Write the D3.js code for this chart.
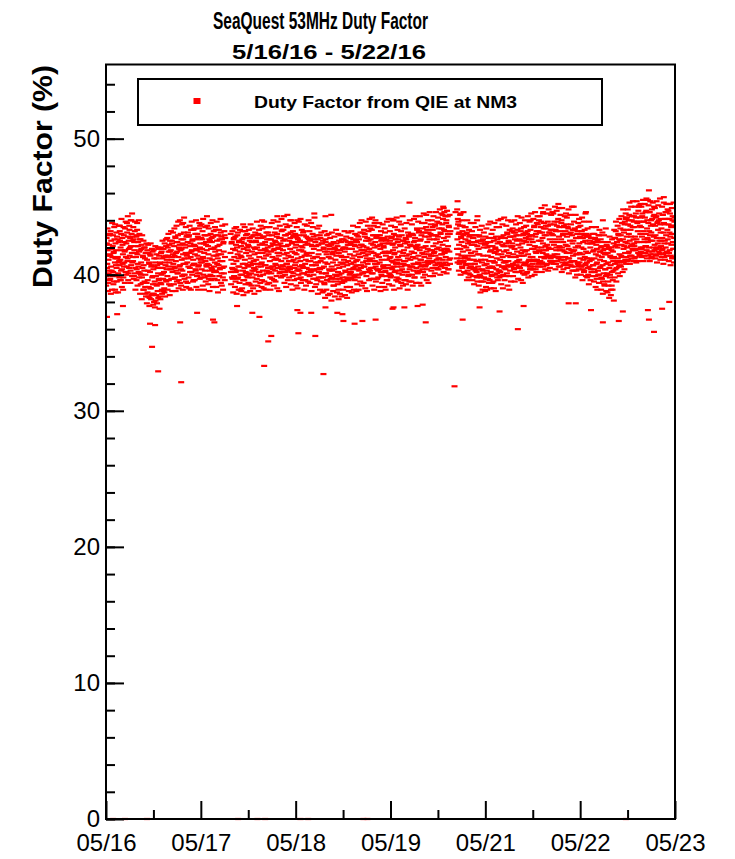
<!DOCTYPE html>
<html>
<head>
<meta charset="utf-8">
<script src="https://cdn.jsdelivr.net/npm/d3@7"></script>
<style>
	body { margin: 0; background: #fff; }
	text { font-family: 'Liberation Sans', Arial, sans-serif; }
</style>
</head>
<body>
<svg id="canvas"></svg>
<script>
const width = 735;
const height = 859;

// two interleaved reading streams, 8 readings per hour each,
// hours counted from the left edge of the axis; null = no beam data
const samplesPerHour = 8;

const day1 = [
	41.4, 39.9, 42.3, 40.8, 41.8, 39.4, 41.1, 42.9, 40.3, 41.5, 39.7, 43.2, 40.6, 41.9, 38.9, 41.3,
	42.1, 40.2, 41.6, 39.5, 42.6, 40.9, 41.2, 38.7, 41.8, 40.5, 42.8, 39.9, 41.3, 40.1, 42.4, 41.0,
	40.7, 42.5, 41.1, 39.6, 43.0, 41.8, 40.4, 42.2, 41.5, 39.8, 42.9, 40.9, 41.7, 43.4, 40.2, 41.3,
	42.3, 40.6, 43.1, 41.2, 42.8, 40.1, 41.9, 43.6, 41.4, 42.7, 40.3, 42.1, 44.0, 41.6, 40.9, 42.5,
	41.0, 42.6, 39.9, 41.8, 43.2, 40.5, 42.1, 41.3, 39.6, 42.9, 41.5, 40.8, 42.4, 40.2, 41.7, 43.0,
	40.1, 41.8, 39.3, 40.9, 42.2, 39.8, 40.5, 41.4, 38.9, 40.7, 42.0, 39.5, 41.2, 40.0, 38.6, 41.6,
	39.4, 41.1, 38.7, 40.3, 41.6, 39.1, 40.8, 38.3, 40.2, 41.4, 39.0, 40.6, 38.5, 39.8, 41.7, 39.3,
	40.4, 38.6, 41.2, 39.5, 40.9, 38.1, 39.9, 41.5, 39.2, 40.7, 38.8, 40.1, 41.9, 39.6, 38.4, 40.5,
	40.8, 39.4, 41.6, 40.0, 38.9, 41.2, 40.5, 39.7, 41.9, 40.2, 38.7, 40.9, 41.4, 39.6, 42.1, 40.4,
	41.3, 39.9, 42.0, 40.6, 41.7, 39.3, 40.9, 42.5, 40.4, 41.8, 39.7, 41.1, 42.3, 40.2, 41.5, 40.8,
	40.6, 42.1, 41.4, 39.8, 42.7, 41.0, 40.3, 42.4, 41.7, 40.1, 42.9, 41.3, 39.6, 41.9, 42.2, 40.7,
	41.8, 40.4, 42.6, 41.1, 39.9, 42.3, 41.5, 40.8, 43.1, 41.2, 40.0, 42.0, 41.6, 39.5, 42.8, 41.4
];
const day1b = [
	39.2, 42.7, 40.5, 43.4, 38.8, 41.9, 40.1, 42.2, 39.6, 43.0, 41.4, 38.6, 42.5, 40.3, 43.8, 39.9,
	42.9, 39.3, 41.7, 43.5, 40.0, 38.9, 42.3, 40.7, 43.1, 39.5, 41.2, 42.6, 38.7, 40.9, 43.6, 39.8,
	43.2, 39.6, 42.0, 40.3, 44.1, 39.1, 42.7, 40.8, 38.9, 43.5, 40.6, 42.4, 39.4, 41.8, 43.9, 40.0,
	40.2, 43.8, 41.0, 44.3, 39.6, 42.5, 40.5, 43.3, 42.0, 39.4, 44.0, 40.7, 43.0, 39.9, 42.8, 41.3,
	43.5, 39.7, 42.4, 40.1, 43.9, 38.9, 41.6, 42.8, 40.4, 43.3, 39.2, 42.1, 40.6, 44.0, 39.8, 42.6,
	38.6, 42.6, 40.0, 41.9, 38.2, 42.9, 39.4, 41.3, 42.5, 38.9, 40.3, 42.0, 39.1, 41.6, 38.4, 42.3,
	37.9, 41.8, 39.6, 42.2, 38.4, 40.9, 37.7, 41.5, 39.0, 42.3, 38.2, 40.7, 41.9, 38.6, 39.9, 37.8,
	41.8, 38.0, 40.6, 37.6, 42.1, 39.3, 38.5, 41.2, 37.9, 40.5, 42.0, 38.3, 39.7, 41.4, 37.5, 40.9,
	38.2, 42.0, 39.3, 41.7, 38.6, 42.5, 40.1, 38.8, 41.3, 39.0, 42.3, 38.4, 40.7, 42.6, 39.5, 41.1,
	42.7, 38.9, 41.4, 43.0, 39.6, 42.2, 38.5, 41.7, 39.2, 43.2, 40.4, 42.5, 38.8, 41.3, 43.1, 39.7,
	39.3, 43.4, 40.5, 42.8, 38.8, 41.6, 43.6, 39.5, 42.4, 40.1, 43.9, 39.0, 42.0, 40.6, 44.0, 39.4,
	43.0, 39.2, 41.9, 43.7, 40.3, 38.9, 42.6, 40.0, 44.2, 39.7, 42.2, 40.8, 43.5, 39.1, 41.5, 42.9
];

const day2 = [
	40.9, 42.4, 41.2, 39.8, 42.9, 41.6, 40.5, 42.1, 41.3, 43.3, 40.2, 41.8, 42.5, 40.7, 41.1, 39.6,
	42.2, 40.8, 41.5, 43.0, 40.3, 41.9, 42.6, 39.9, 41.4, 42.8, 40.6, 41.2, 43.4, 40.1, 42.0, 41.7,
	41.1, 42.7, 40.4, 41.9, 43.2, 41.3, 40.0, 42.3, 41.6, 39.8, 42.9, 41.0, 42.4, 40.7, 41.8, 43.6,
	40.8, 42.1, 41.5, 39.7, 42.6, 41.2, 40.3, 43.0, 41.9, 40.5, 42.4, 41.1, 39.9, 42.8, 41.4, 40.6,
	42.0, 40.9, 41.7, 43.3, 40.2, 41.4, 42.5, 39.6, 41.2, 42.9, 40.7, 41.8, 42.2, 40.4, 41.0, 43.1,
	41.5, 40.1, 42.6, 41.0, 39.8, 42.3, 41.7, 40.6, 42.9, 41.3, null, null, null, null, null, null,
	null, null, null, null, null, null, 41.6, 40.2, 41.1, 42.4, 40.5, 39.7, 41.9, 40.8, 42.7, 41.3,
	40.4, 41.8, 39.5, 42.2, 41.0, 40.3, 42.9, 41.5, 39.8, 41.2, 42.4, 40.6, 41.7, 38.9, 41.4, 42.1,
	41.3, 40.0, 42.6, 40.8, 39.6, 41.9, 42.3, 40.5, 41.1, 43.2, 40.2, 41.6, 39.9, 42.0, 40.7, 41.8,
	40.6, 42.1, 41.4, 39.3, 42.7, 40.9, 41.2, 40.1, 42.4, 41.7, 39.8, 40.8, 42.9, 41.0, 40.3, 41.5,
	41.9, 40.4, 42.5, 41.1, 39.7, 42.0, 40.8, 41.6, 43.0, 40.2, 41.3, 42.2, 39.9, 41.8, 40.6, 42.7,
	40.9, 42.3, 41.6, 40.0, 42.8, 41.2, 39.5, 41.9, 42.4, 40.7, 41.4, 43.1, 40.3, 41.7, 42.0, 40.5
];
const day2b = [
	39.4, 43.1, 40.6, 42.8, 39.0, 43.6, 40.2, 42.3, 38.9, 41.7, 43.9, 40.0, 42.6, 39.5, 43.3, 40.8,
	43.4, 39.6, 42.1, 40.4, 44.0, 39.1, 41.8, 43.0, 40.1, 38.9, 42.7, 40.7, 43.8, 39.7, 42.3, 40.9,
	39.8, 43.7, 40.9, 42.6, 39.2, 44.1, 41.2, 38.9, 42.9, 40.3, 43.5, 39.5, 42.2, 40.6, 44.3, 39.9,
	42.9, 39.3, 43.4, 40.7, 38.8, 42.5, 40.0, 43.8, 39.6, 42.7, 40.4, 44.0, 39.1, 41.9, 43.2, 40.2,
	39.7, 43.5, 40.3, 42.9, 39.1, 43.9, 40.8, 42.1, 38.7, 41.5, 43.3, 39.9, 42.6, 40.5, 44.1, 39.4,
	42.8, 39.2, 43.6, 40.5, 38.9, 42.4, 40.1, 43.2, 39.6, 42.7, null, null, null, null, null, null,
	null, null, null, null, null, null, 43.0, 39.3, 42.3, 39.8, 43.2, 40.4, 38.7, 42.6, 39.9, 43.4,
	39.1, 42.8, 40.2, 43.5, 38.6, 42.0, 39.7, 43.1, 40.6, 38.9, 42.5, 39.4, 43.3, 40.0, 42.1, 38.8,
	42.4, 39.0, 43.2, 40.3, 38.5, 42.7, 39.6, 43.5, 40.8, 39.3, 42.9, 40.1, 38.7, 43.0, 39.8, 42.2,
	39.4, 43.3, 40.0, 42.5, 38.8, 43.7, 40.7, 39.2, 42.8, 40.3, 43.4, 39.0, 42.0, 40.5, 38.6, 42.9,
	43.1, 39.5, 42.4, 40.0, 43.9, 39.2, 42.7, 40.6, 38.8, 43.3, 40.2, 42.9, 39.4, 43.6, 40.8, 39.1,
	39.6, 43.4, 40.3, 42.8, 39.0, 43.9, 40.7, 42.2, 38.9, 41.8, 43.5, 40.1, 42.6, 39.3, 43.1, 40.5
];

const day3 = [
	41.5, 40.2, 42.6, 41.0, 39.8, 42.1, 41.7, 40.6, 42.9, 41.3, 40.4, 42.2, 41.8, 39.6, 41.1, 42.5,
	40.8, 42.4, 41.2, 39.9, 43.0, 41.6, 40.5, 42.0, 41.4, 42.7, 40.1, 41.9, 42.3, 40.6, 41.0, 43.2,
	42.1, 40.7, 41.8, 43.3, 40.4, 41.5, 42.6, 40.0, 41.2, 42.9, 40.8, 41.6, 43.5, 40.3, 42.2, 41.4,
	41.0, 42.5, 40.6, 41.9, 43.1, 41.3, 40.2, 42.3, 41.7, 39.9, 42.8, 41.1, 42.4, 40.5, 41.6, 43.0,
	40.9, 42.2, 41.5, 39.7, 42.7, 41.2, 40.4, 42.9, 41.8, 40.3, 42.5, 41.0, 39.8, 42.1, 41.3, 40.7,
	42.0, 40.6, 41.7, 43.2, 40.1, 41.4, 42.4, 39.6, 41.1, 42.8, 40.5, 41.6, 42.3, 40.2, 41.0, 42.6,
	41.4, 39.9, 42.5, 41.0, 40.3, 42.2, 41.6, 40.7, 43.0, 41.2, 40.0, 41.9, 42.6, 40.4, 41.3, 39.7,
	40.7, 42.1, 41.3, 39.6, 42.6, 40.9, 41.5, 40.2, 41.8, 42.9, 40.4, 41.0, 39.8, 42.3, 41.2, 40.5,
	41.2, 39.8, 42.0, 40.6, 39.3, 41.7, 40.9, 42.4, 40.1, 41.5, 39.6, 40.8, 42.2, 39.9, 41.3, 40.4,
	40.3, 41.9, 39.5, 41.2, 42.3, 40.6, 39.8, 41.5, 40.9, 39.2, 41.7, 40.4, 42.0, 40.0, 41.1, 39.7,
	41.4, 39.9, 40.7, 42.1, 40.2, 38.9, 41.6, 40.5, 39.7, 41.8, 40.9, 42.4, 40.1, 41.3, 39.4, 40.8,
	40.6, 42.0, 41.1, 39.5, 41.7, 40.3, 42.5, 40.9, 41.3, 39.8, 40.7, 42.2, 41.0, 39.6, 41.9, 40.4
];
const day3b = [
	42.9, 39.4, 43.5, 40.5, 38.9, 42.6, 40.1, 43.8, 39.7, 42.3, 40.6, 44.0, 39.2, 41.9, 43.1, 40.3,
	39.5, 43.4, 40.7, 42.8, 39.0, 43.9, 41.1, 42.2, 38.8, 41.6, 43.6, 40.2, 42.7, 39.8, 44.1, 40.4,
	43.3, 39.9, 42.5, 40.6, 44.3, 39.4, 42.9, 40.2, 43.7, 39.1, 42.1, 40.8, 44.4, 39.6, 43.0, 40.5,
	39.8, 43.6, 40.4, 42.7, 39.3, 44.0, 41.0, 42.4, 38.9, 43.2, 40.1, 42.9, 39.6, 43.8, 40.7, 42.0,
	42.8, 39.2, 43.5, 40.3, 39.0, 42.6, 40.0, 43.9, 39.7, 42.4, 40.6, 44.1, 39.4, 41.8, 43.3, 40.1,
	39.6, 43.1, 40.5, 42.9, 38.9, 43.7, 40.8, 42.2, 39.2, 41.5, 43.6, 40.0, 42.7, 39.5, 44.0, 40.4,
	43.2, 39.4, 42.6, 40.2, 43.8, 38.8, 42.1, 40.7, 43.5, 39.7, 42.8, 40.3, 44.2, 39.1, 42.4, 40.9,
	39.3, 42.9, 40.4, 43.4, 38.6, 42.2, 39.8, 43.6, 40.5, 38.9, 42.7, 39.5, 43.1, 40.1, 42.3, 38.7,
	42.5, 38.8, 41.9, 39.4, 43.2, 38.3, 42.6, 40.1, 38.9, 42.9, 39.6, 41.7, 38.5, 43.0, 39.9, 42.1,
	38.6, 42.7, 39.7, 42.2, 38.1, 43.1, 40.3, 41.6, 38.8, 42.4, 39.2, 42.8, 38.4, 41.9, 39.5, 43.3,
	42.3, 38.7, 41.8, 39.3, 43.0, 38.2, 42.5, 40.0, 38.6, 42.9, 39.5, 41.4, 38.4, 42.6, 39.8, 41.9,
	38.9, 42.6, 39.6, 43.2, 38.5, 42.0, 40.2, 42.8, 39.1, 38.3, 42.4, 39.7, 43.1, 38.8, 42.2, 40.0
];

const day4 = [
	41.5, 40.1, 42.3, 40.8, 39.7, 41.9, 41.2, 40.4, 42.6, 40.9, 41.4, 39.9, 42.1, 40.6, 41.7, 41.0,
	40.7, 42.4, 41.1, 39.8, 42.8, 41.5, 40.3, 42.0, 41.3, 43.1, 40.5, 41.8, 42.2, 40.1, 41.6, 40.9,
	42.1, 40.6, 41.8, 43.0, 40.2, 41.4, 42.5, 39.9, 41.2, 42.7, 40.8, 41.5, 43.2, 40.4, 41.9, 41.1,
	41.0, 42.6, 40.5, 41.7, 43.3, 41.2, 40.1, 42.2, 41.6, 39.7, 42.9, 41.0, 42.4, 40.6, 41.4, 42.8,
	40.8, 42.1, 41.5, 39.8, 42.7, 41.3, 40.4, 42.9, 41.9, 40.2, 42.5, 41.1, 39.9, 42.3, 41.6, 40.7,
	42.0, 40.5, 41.7, 43.1, 40.3, 41.4, 42.6, 39.6, 41.1, 42.8, 40.7, 41.6, 42.3, 40.1, 41.2, 42.5,
	41.3, 39.9, 42.7, 41.0, 40.4, 42.2, 41.8, 40.6, 43.0, 41.5, 40.2, 42.0, 42.6, 40.8, 41.1, 39.8,
	40.9, 42.4, 41.3, 39.7, 42.8, 41.1, 41.7, 40.3, 42.1, 43.2, 40.6, 41.4, 40.0, 42.5, 41.6, 40.8,
	41.8, 40.2, 42.3, 41.0, 39.6, 42.6, 41.4, 40.7, 42.0, 41.2, 39.9, 42.9, 41.5, 40.4, 42.2, 41.1,
	40.6, 42.1, 41.7, 40.0, 43.0, 41.3, 40.8, 42.4, 41.6, 39.8, 42.7, 41.2, 42.0, 40.5, 41.9, 43.3,
	42.2, 40.9, 41.4, 43.1, 40.3, 41.8, 42.5, 40.6, 41.1, 42.9, 40.7, 41.6, 43.4, 40.2, 42.0, 41.5,
	41.3, 42.8, 40.6, 42.1, 43.5, 41.7, 40.4, 42.4, 41.9, 40.8, 43.1, 41.5, 42.6, 40.9, 41.8, 43.7
];
const day4b = [
	39.1, 42.7, 40.2, 43.2, 38.7, 42.4, 39.8, 43.6, 40.5, 38.9, 42.2, 39.6, 43.0, 40.0, 42.5, 38.8,
	42.9, 39.3, 43.5, 40.4, 38.9, 42.6, 40.0, 43.8, 39.5, 42.2, 40.7, 44.0, 39.2, 41.8, 43.1, 40.1,
	39.4, 43.3, 40.6, 42.8, 39.0, 43.9, 41.0, 42.0, 38.8, 41.7, 43.6, 40.2, 42.5, 39.6, 44.1, 40.3,
	43.4, 39.7, 42.3, 40.1, 44.2, 39.2, 42.9, 40.5, 43.6, 38.9, 42.0, 40.8, 44.0, 39.5, 42.7, 40.4,
	39.7, 43.5, 40.3, 42.9, 39.1, 43.8, 40.9, 42.2, 38.8, 43.2, 40.0, 42.6, 39.4, 43.7, 40.6, 42.1,
	42.7, 39.1, 43.4, 40.2, 38.9, 42.5, 39.9, 43.9, 39.6, 42.3, 40.5, 44.1, 39.3, 41.7, 43.2, 40.0,
	39.8, 43.6, 40.5, 42.8, 39.2, 44.0, 40.9, 42.3, 38.9, 41.6, 43.5, 40.3, 42.9, 39.6, 44.2, 40.6,
	43.3, 39.5, 42.6, 40.1, 43.9, 39.0, 42.2, 40.8, 43.7, 39.4, 42.9, 40.4, 44.3, 39.2, 42.5, 41.0,
	39.6, 43.4, 40.7, 42.7, 39.3, 43.8, 40.2, 42.4, 38.9, 43.1, 40.0, 42.8, 39.5, 44.0, 40.6, 42.2,
	43.0, 39.5, 43.7, 40.6, 39.2, 42.9, 40.3, 44.1, 39.8, 42.5, 40.8, 44.3, 39.4, 42.1, 43.4, 40.2,
	40.1, 43.9, 40.8, 43.2, 39.4, 44.3, 41.1, 42.6, 39.2, 42.0, 43.8, 40.4, 43.1, 39.8, 44.5, 40.9,
	43.8, 40.0, 43.1, 40.7, 44.4, 39.6, 43.3, 41.0, 44.0, 39.4, 42.8, 41.2, 44.6, 39.9, 43.0, 41.4
];

const day5 = [
	41.4, 42.9, 41.8, 40.5, 43.3, 42.1, 40.9, 42.6, 41.7, 43.6, 40.7, 42.3, 42.9, 41.1, 41.9, 40.4,
	42.8, 41.2, 42.0, 43.8, 40.9, 42.4, 43.1, 40.6, 41.8, 43.4, 41.5, 42.2, 44.1, 40.8, 42.7, 41.9,
	41.6, 43.2, 40.9, 42.5, 44.0, 41.9, 40.7, 42.8, 42.1, 40.4, 43.5, 41.7, 43.0, 41.2, null, null,
	null, null, null, null, null, null, null, null, null, null, null, null, 43.4, 41.9, 42.6, 44.1,
	41.5, 43.0, 42.2, 40.8, 43.6, 41.9, 41.2, 42.7, 42.4, 40.6, 43.2, 41.7, 42.9, 41.0, 42.1, 43.5,
	41.2, 42.6, 40.7, 42.0, 43.1, 41.4, 40.3, 42.3, 41.8, 40.1, 42.8, 41.1, 42.4, 40.6, 41.6, 42.9,
	40.8, 42.2, 41.4, 39.9, 42.7, 41.1, 40.5, 42.9, 41.7, 40.3, 42.4, 41.0, 39.8, 42.1, 41.5, 40.6,
	41.9, 40.4, 41.5, 42.8, 39.9, 41.1, 42.3, 39.5, 40.9, 42.5, 40.3, 41.4, 42.0, 39.8, 40.7, 42.2,
	41.1, 39.7, 42.3, 40.8, 40.1, 42.0, 41.4, 40.5, 42.7, 41.0, 39.6, 41.7, 42.4, 40.2, 41.3, 39.9,
	40.6, 42.1, 41.0, 39.5, 42.5, 40.9, 41.6, 40.0, 41.9, 42.8, 40.4, 41.2, 39.8, 42.3, 41.5, 40.7,
	41.8, 40.3, 42.4, 41.1, 39.9, 42.7, 41.5, 40.6, 42.2, 41.3, 40.0, 42.9, 41.7, 40.5, 42.1, 41.0,
	40.9, 42.3, 41.8, 40.1, 43.0, 41.4, 40.7, 42.5, 41.6, 39.9, 42.8, 41.3, 42.1, 40.6, 42.0, 43.2
];
const day5b = [
	40.3, 44.0, 41.0, 43.5, 39.9, 44.3, 41.6, 42.9, 40.1, 43.7, 41.4, 44.6, 40.5, 42.6, 43.9, 40.8,
	44.2, 40.4, 43.4, 41.2, 44.8, 40.0, 43.0, 41.5, 44.5, 40.7, 43.7, 41.1, 45.0, 40.2, 43.3, 41.7,
	40.5, 44.3, 41.3, 43.8, 40.1, 44.7, 41.8, 43.0, 40.4, 43.6, 41.1, 44.4, 40.8, 43.2, null, null,
	null, null, null, null, null, null, null, null, null, null, null, null, 41.2, 44.8, 40.9, 43.7,
	43.9, 40.3, 43.1, 41.0, 44.4, 40.0, 42.8, 41.4, 44.0, 40.5, 43.6, 40.9, 44.6, 40.2, 43.0, 41.3,
	40.1, 43.5, 40.8, 43.0, 39.6, 44.0, 41.2, 42.5, 39.8, 43.3, 40.5, 42.9, 40.0, 43.8, 40.6, 42.2,
	43.2, 39.6, 42.7, 40.4, 43.8, 39.3, 42.2, 40.8, 43.5, 39.9, 42.9, 40.2, 44.0, 39.5, 42.5, 41.0,
	39.2, 42.9, 40.0, 43.3, 38.7, 42.5, 39.8, 43.6, 40.4, 38.9, 42.6, 39.5, 43.1, 40.1, 42.3, 38.8,
	42.8, 39.1, 43.4, 40.3, 38.9, 42.4, 39.7, 43.7, 39.4, 42.1, 40.6, 43.9, 39.0, 41.8, 43.0, 40.0,
	39.4, 43.3, 40.5, 42.7, 39.0, 43.8, 40.9, 42.0, 38.8, 41.7, 43.5, 40.1, 42.6, 39.6, 44.0, 40.3,
	43.5, 39.8, 42.4, 40.2, 44.1, 39.3, 42.8, 40.6, 43.7, 39.0, 42.1, 40.9, 44.2, 39.6, 42.7, 40.4,
	39.9, 43.6, 40.6, 43.1, 39.2, 44.0, 41.0, 42.4, 38.9, 43.3, 40.3, 42.8, 39.5, 43.9, 40.7, 42.3
];

const day6 = [
	42.1, 40.8, 41.5, 43.1, 40.4, 41.9, 42.6, 40.2, 41.3, 42.9, 40.7, 41.7, 43.3, 40.5, 42.2, 41.4,
	41.1, 42.6, 40.5, 42.0, 43.4, 41.6, 40.3, 42.3, 41.8, 40.1, 43.0, 41.4, 42.5, 40.8, 41.7, 43.1,
	40.9, 42.4, 41.8, 40.2, 43.2, 41.5, 41.0, 42.8, 42.2, 40.6, 42.9, 41.3, 40.4, 42.6, 41.9, 40.8,
	42.4, 41.0, 41.9, 43.5, 40.6, 42.1, 42.8, 40.4, 41.6, 43.2, 41.1, 42.0, 43.7, 40.8, 42.5, 41.8,
	41.7, 43.1, 41.0, 42.5, 43.9, 42.0, 40.9, 42.7, 42.3, 40.6, 43.4, 41.8, 42.9, 41.3, 42.1, 43.6,
	41.5, 42.9, 42.2, 40.8, 43.6, 42.0, 41.3, 43.1, 42.6, 41.0, 43.3, 41.9, 40.9, 43.0, 42.4, 41.4,
	42.9, 41.3, 42.2, 43.9, 41.0, 42.6, 43.3, 40.8, 42.0, 43.6, 41.5, 42.4, 44.1, 41.2, 42.8, 42.1,
	41.8, 43.2, 41.1, 42.6, 44.0, 42.0, 40.9, 42.9, 42.4, 40.7, 43.5, 41.7, 43.0, 41.3, 42.2, 43.7,
	41.6, 42.8, 42.1, 40.7, 43.4, 41.9, 41.2, 43.0, 42.5, 40.9, 43.1, 41.8, 40.6, 42.9, 42.3, 41.4,
	42.5, 41.0, 41.8, 43.3, 40.6, 42.0, 42.7, 40.3, 41.5, 43.0, 40.9, 42.1, 43.5, 40.7, 42.3, 41.6,
	41.2, 42.7, 40.6, 42.0, 43.2, 41.5, 40.4, 42.4, 41.9, 40.2, 42.9, 41.3, 42.5, 40.8, 41.7, 43.0,
	40.9, 42.3, 41.6, 40.0, 42.8, 41.2, 40.6, 42.5, 42.0, 40.4, 42.7, 41.1, 40.2, 42.3, 41.7, 40.7
];
const day6b = [
	43.4, 39.9, 42.8, 40.5, 44.0, 39.5, 43.1, 40.9, 43.7, 40.2, 42.5, 41.0, 44.3, 39.7, 42.9, 40.6,
	40.2, 43.8, 40.9, 43.2, 39.6, 44.2, 41.4, 42.5, 39.4, 42.9, 40.7, 43.5, 40.0, 44.0, 40.8, 42.7,
	43.6, 40.1, 43.0, 40.7, 44.3, 39.8, 42.6, 41.1, 43.9, 40.4, 43.3, 40.6, 44.5, 39.9, 42.9, 41.3,
	40.4, 44.1, 41.1, 43.6, 40.0, 44.6, 41.7, 43.0, 40.2, 43.8, 41.0, 44.3, 40.6, 43.2, 44.0, 40.9,
	44.3, 40.6, 43.5, 41.3, 44.9, 40.2, 43.1, 41.6, 44.6, 40.8, 43.8, 41.2, 45.1, 40.4, 43.4, 41.8,
	40.7, 44.5, 41.4, 43.9, 40.3, 44.8, 41.9, 43.1, 40.5, 43.7, 41.2, 44.4, 40.9, 43.3, 44.6, 41.0,
	44.5, 40.8, 43.7, 41.5, 45.0, 40.4, 43.2, 41.8, 44.7, 41.0, 43.9, 41.3, 45.2, 40.6, 43.5, 42.0,
	40.6, 44.4, 41.3, 43.8, 40.2, 44.9, 41.8, 43.0, 40.4, 43.6, 41.1, 44.3, 40.8, 43.2, 44.5, 40.9,
	44.2, 40.5, 43.5, 41.2, 44.8, 40.1, 43.0, 41.6, 44.4, 40.7, 43.7, 41.0, 45.0, 40.3, 43.3, 41.7,
	40.3, 43.9, 41.0, 43.4, 39.8, 44.4, 41.5, 42.7, 40.0, 43.2, 40.8, 43.8, 40.4, 44.1, 40.9, 42.8,
	43.6, 40.0, 43.0, 40.6, 44.2, 39.6, 42.7, 41.1, 43.9, 40.3, 43.3, 40.7, 44.5, 39.9, 42.8, 41.2,
	39.8, 43.4, 40.5, 42.9, 39.3, 43.9, 41.0, 42.3, 39.6, 42.7, 40.2, 43.5, 39.9, 43.0, 40.7, 42.4
];

const day7 = [
	41.8, 40.4, 41.2, 42.7, 39.9, 41.5, 42.2, 39.7, 40.9, 42.5, 40.3, 41.4, 42.9, 40.0, 41.7, 41.1,
	40.6, 42.0, 39.8, 41.3, 42.4, 40.7, 39.5, 41.6, 41.0, 39.3, 41.9, 40.4, 41.5, 39.9, 40.8, 42.1,
	40.1, 41.6, 40.9, 39.2, 42.0, 40.5, 39.8, 41.4, 40.7, 38.9, 41.8, 40.2, 41.2, 39.6, 41.0, 42.3,
	41.3, 42.7, 40.8, 42.1, 43.2, 41.0, 40.5, 42.4, 42.0, 41.2, 43.0, 40.9, 42.6, 41.5, 40.7, 43.4,
	42.9, 41.4, 42.2, 43.8, 41.0, 42.6, 43.3, 40.9, 42.1, 43.7, 41.6, 42.4, 44.2, 41.3, 42.8, 42.0,
	42.3, 43.7, 41.6, 43.0, 44.4, 42.5, 41.4, 43.3, 42.8, 41.2, 44.0, 42.2, 43.5, 41.8, 42.6, 44.3,
	42.1, 43.5, 42.8, 41.3, 44.2, 42.6, 41.9, 43.8, 43.2, 41.6, 43.9, 42.4, 41.5, 43.6, 43.0, 42.0,
	43.5, 41.9, 42.8, 44.5, 41.6, 43.2, 43.9, 41.4, 42.6, 44.2, 42.1, 43.0, 44.7, 41.8, 43.4, 42.7,
	42.4, 43.8, 41.7, 43.2, 44.6, 42.9, 41.5, 43.6, 43.1, 41.3, 44.1, 42.5, 43.7, 42.0, 42.8, 44.4,
	42.2, 43.6, 42.9, 41.4, 44.3, 42.7, 42.0, 43.9, 43.3, 41.7, 44.0, 42.5, 41.6, 43.7, 43.1, 42.1,
	43.4, 41.8, 42.7, 44.4, 41.5, 43.1, 43.8, 41.3, 42.5, 44.1, 42.0, 42.9, 44.6, 41.7, 43.3, 42.6,
	42.3, 43.7, 41.6, 43.1, 44.5, 42.8, 41.4, 43.5, 43.0, 41.2, 44.0, 42.4, 43.6, 41.9, 42.7, 44.2
];
const day7b = [
	39.5, 43.0, 40.2, 42.6, 39.1, 43.5, 40.8, 41.9, 38.9, 42.4, 40.0, 42.9, 39.4, 43.3, 40.5, 41.7,
	42.6, 38.9, 42.1, 39.7, 43.1, 38.6, 41.8, 40.1, 42.9, 39.2, 41.5, 40.4, 43.4, 38.8, 42.2, 40.0,
	38.7, 42.4, 39.5, 41.9, 38.3, 42.8, 40.0, 41.3, 38.5, 42.0, 39.2, 42.6, 38.9, 41.7, 40.3, 38.1,
	43.3, 39.8, 42.7, 40.4, 43.9, 39.5, 42.2, 40.9, 43.6, 40.1, 42.9, 40.6, 44.1, 39.9, 42.5, 41.0,
	40.6, 44.3, 41.3, 43.8, 40.2, 44.8, 41.9, 43.1, 40.4, 43.9, 41.1, 44.5, 40.8, 43.3, 44.2, 41.0,
	44.8, 41.1, 44.0, 41.7, 45.3, 40.8, 43.6, 42.1, 45.0, 41.4, 44.3, 41.9, 45.4, 41.0, 43.9, 42.3,
	41.2, 45.0, 41.8, 44.5, 40.9, 45.4, 42.4, 43.9, 41.0, 44.7, 41.6, 45.1, 41.4, 44.2, 45.2, 41.7,
	45.0, 41.3, 44.3, 42.0, 45.5, 41.0, 43.9, 42.4, 45.2, 41.6, 44.6, 42.1, 45.6, 41.2, 44.0, 42.6,
	41.4, 45.1, 42.0, 44.6, 41.0, 45.4, 42.5, 44.0, 41.2, 44.8, 41.7, 45.3, 41.5, 44.3, 45.0, 41.8,
	44.9, 41.2, 44.2, 41.9, 45.4, 40.9, 43.8, 42.3, 45.1, 41.5, 44.5, 42.0, 45.6, 41.1, 44.1, 42.5,
	41.3, 45.0, 41.9, 44.4, 40.8, 45.3, 42.3, 43.7, 41.1, 44.6, 41.6, 45.2, 41.4, 44.1, 44.8, 41.6,
	44.7, 41.0, 44.1, 41.8, 45.2, 40.7, 43.6, 42.2, 44.9, 41.3, 44.3, 41.9, 45.3, 40.9, 43.9, 42.4
];

// stray readings off the main band: [hour, duty factor]
const strayPoints = [
	[0.3, 36.9], [3.3, 37.1], [5.0, 37.7], [13.0, 36.4], [13.6, 34.7], [14.5, 36.3], [15.4, 32.9],
	[21.9, 36.5], [22.2, 32.1], [26.9, 37.2], [31.6, 36.7], [32.0, 36.5], [38.7, 37.7], [43.2, 37.2],
	[45.3, 36.9], [46.7, 33.3], [47.9, 35.1], [48.8, 35.5], [56.5, 37.4], [56.8, 35.7], [57.4, 37.2],
	[60.6, 37.2], [61.8, 35.5], [64.2, 32.7], [64.8, 37.6], [68.3, 37.2], [69.8, 37.1], [70.1, 36.6],
	[73.4, 36.4], [75.7, 36.6], [79.6, 36.7], [84.6, 37.5], [84.9, 37.6], [88.1, 37.6], [92.0, 37.7],
	[93.5, 37.8], [94.4, 36.5], [102.9, 31.8], [105.3, 36.7], [110.3, 37.6], [116.2, 37.3],
	[121.6, 36.0], [123.3, 37.7], [136.6, 37.9], [138.7, 37.9], [143.2, 37.4], [146.7, 36.5],
	[151.4, 36.6], [152.6, 37.3], [160.0, 37.4], [160.3, 36.7], [161.8, 35.8], [164.2, 37.5],
	[166.3, 38.0],
	[2.7, 43.7], [4.1, 43.6], [7.7, 44.5], [9.2, 43.8], [22.8, 43.8], [27.8, 43.6], [35.2, 43.7],
	[40.5, 43.7], [46.1, 44.0], [50.6, 44.3], [54.4, 44.0], [56.5, 44.0], [61.5, 44.5], [64.8, 44.3],
	[66.5, 44.4], [79.3, 43.8], [84.3, 44.1], [84.9, 44.0], [89.6, 45.3], [99.4, 44.4], [99.7, 44.9],
	[99.9, 44.6], [100.9, 44.3], [103.2, 44.6], [103.8, 45.4], [104.7, 44.5], [109.7, 44.3],
	[125.4, 44.0], [129.0, 44.5], [133.7, 44.9], [138.1, 45.0], [141.7, 44.6], [146.7, 44.0],
	[153.5, 44.1], [157.3, 45.0], [160.0, 45.5], [160.3, 46.2], [164.7, 45.7], [165.9, 45.2]
];

// readings that dropped to zero (beam off)
const zeroHours = [2.1, 5.6, 12.1, 39.0, 44.7, 47.0, 57.4, 59.7, 76.0, 77.2, 153.5];

const xTickLabels = ['05/16', '05/17', '05/18', '05/19', '05/21', '05/22', '05/23'];
const yMajorTicks = [0, 10, 20, 30, 40, 50];

const frame = { left: 106, right: 675, top: 64.5, bottom: 819 };

const canvas = d3.select('#canvas').attr('width', width).attr('height', height);

const x = d3.scaleLinear().domain([0, 168]).range([frame.left, frame.right]);
const y = d3.scaleLinear().domain([0, 55.45]).range([frame.bottom, frame.top]);

const streamA = [day1, day2, day3, day4, day5, day6, day7].flat();
const streamB = [day1b, day2b, day3b, day4b, day5b, day6b, day7b].flat();

let points = [];
streamA.forEach((v, i) => points.push({ h: i / samplesPerHour, v: v }));
streamB.forEach((v, i) => points.push({ h: (i + 0.5) / samplesPerHour, v: v }));
points = points.filter((d) => d.v !== null);
strayPoints.forEach((p) => points.push({ h: p[0], v: p[1] }));
zeroHours.forEach((h) => points.push({ h: h, v: 0 }));

canvas
	.append('clipPath')
	.attr('id', 'frameClip')
	.append('rect')
	.attr('x', frame.left)
	.attr('y', frame.top)
	.attr('width', frame.right - frame.left)
	.attr('height', frame.bottom - frame.top + 3);

canvas
	.append('g')
	.attr('clip-path', 'url(#frameClip)')
	.selectAll('rect')
	.data(points)
	.enter()
	.append('rect')
	.attr('x', (d) => x(d.h) - 3)
	.attr('y', (d) => y(d.v) - 1.1)
	.attr('width', 6)
	.attr('height', 2.2)
	.attr('fill', '#ff0000');

// axes, ROOT style: ticks drawn inside the frame
const styleAxis = (g) => {
	g.select('.domain').remove();
	g.selectAll('line').attr('stroke', '#000').attr('stroke-width', 2);
	g.selectAll('text').attr('font-family', "'Liberation Sans', Arial, sans-serif").attr('font-size', 24).attr('fill', '#000');
};

canvas
	.append('g')
	.attr('transform', `translate(${frame.left},0)`)
	.call(d3.axisLeft(y).tickValues(d3.range(0, 55, 2)).tickSize(-9).tickFormat(''))
	.call(styleAxis);

canvas
	.append('g')
	.attr('transform', `translate(${frame.left},0)`)
	.call(d3.axisLeft(y).tickValues(yMajorTicks).tickSize(-18).tickPadding(6))
	.call(styleAxis);

canvas
	.append('g')
	.attr('transform', `translate(0,${frame.bottom})`)
	.call(d3.axisBottom(x).tickValues(d3.range(14, 168, 28)).tickSize(-9).tickFormat(''))
	.call(styleAxis);

canvas
	.append('g')
	.attr('transform', `translate(0,${frame.bottom})`)
	.call(
		d3
			.axisBottom(x)
			.tickValues(d3.range(0, 169, 28))
			.tickSize(-18)
			.tickPadding(15)
			.tickFormat((d, i) => xTickLabels[i])
	)
	.call(styleAxis);

canvas
	.append('rect')
	.attr('x', frame.left)
	.attr('y', frame.top)
	.attr('width', frame.right - frame.left)
	.attr('height', frame.bottom - frame.top)
	.attr('fill', 'none')
	.attr('stroke', '#000')
	.attr('stroke-width', 2);

// titles
canvas
	.append('text')
	.text('SeaQuest 53MHz Duty Factor')
	.attr('x', 213)
	.attr('y', 29)
	.attr('font-size', 23)
	.attr('font-weight', 'bold')
	.attr('textLength', 215)
	.attr('lengthAdjust', 'spacingAndGlyphs');

canvas
	.append('text')
	.text('5/16/16 - 5/22/16')
	.attr('x', 232)
	.attr('y', 59)
	.attr('font-size', 21)
	.attr('font-weight', 'bold')
	.attr('textLength', 194)
	.attr('lengthAdjust', 'spacingAndGlyphs');

canvas
	.append('text')
	.text('Duty Factor (%)')
	.attr('transform', 'translate(52,288) rotate(-90)')
	.attr('font-size', 28)
	.attr('font-weight', 'bold')
	.attr('textLength', 223)
	.attr('lengthAdjust', 'spacingAndGlyphs');

// legend
canvas
	.append('rect')
	.attr('x', 138)
	.attr('y', 79)
	.attr('width', 464)
	.attr('height', 46)
	.attr('fill', '#fff')
	.attr('stroke', '#000')
	.attr('stroke-width', 2);

canvas
	.append('rect')
	.attr('x', 193.5)
	.attr('y', 98)
	.attr('width', 7)
	.attr('height', 6)
	.attr('fill', '#ff0000');

canvas
	.append('text')
	.text('Duty Factor from QIE at NM3')
	.attr('x', 254)
	.attr('y', 108)
	.attr('font-size', 17)
	.attr('font-weight', 'bold')
	.attr('textLength', 263)
	.attr('lengthAdjust', 'spacingAndGlyphs');
</script>
</body>
</html>
